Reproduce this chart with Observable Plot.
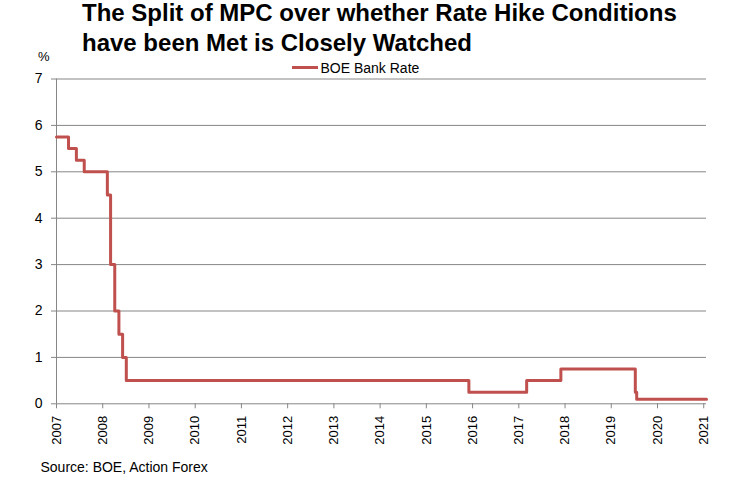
<!DOCTYPE html>
<html>
<head>
<meta charset="utf-8">
<script src="https://cdn.jsdelivr.net/npm/d3@7"></script>
<script src="https://cdn.jsdelivr.net/npm/@observablehq/plot@0.6"></script>
<style>
  html, body { margin: 0; padding: 0; background: #fff; }
  #wrap { position: relative; width: 744px; height: 481px; font-family: Arial, "Liberation Sans", sans-serif; color: #000; }
  #title { position: absolute; left: 82px; top: -1.6px; font-size: 24px; font-weight: bold; line-height: 30px; white-space: nowrap; }
  #chart { position: absolute; left: 0; top: 60px; }
  #pct { position: absolute; left: 38px; top: 49px; font-size: 13px; line-height: 15px; }
  #legsw { position: absolute; left: 292px; top: 66.2px; width: 26px; height: 3px; background: #C0504D; }
  #legtx { position: absolute; left: 320.5px; top: 59.7px; font-size: 14px; line-height: 16px; white-space: nowrap; }
  #source { position: absolute; left: 40.5px; top: 459.4px; font-size: 14px; line-height: 16px; white-space: nowrap; }
</style>
</head>
<body>
<div id="wrap">
  <div id="title">The Split of MPC over whether Rate Hike Conditions<br>have been Met is Closely Watched</div>
  <div id="chart"></div>
  <div id="pct">%</div>
  <div id="legsw"></div>
  <div id="legtx">BOE Bank Rate</div>
  <div id="source">Source: BOE, Action Forex</div>
</div>
<script>
// Step change points (x in chart-year units)
const dates = [2007.0, 2007.26, 2007.43, 2007.60, 2008.10, 2008.17, 2008.26, 2008.35, 2008.43, 2008.51, 2015.92, 2017.17, 2017.91, 2019.52, 2019.55, 2021.06];
const rates = [5.75, 5.5, 5.25, 5.0, 4.5, 3.0, 2.0, 1.5, 1.0, 0.5, 0.25, 0.5, 0.75, 0.25, 0.1, 0.1];
const yearTicks = [2007, 2008, 2009, 2010, 2011, 2012, 2013, 2014, 2015, 2016, 2017, 2018, 2019, 2020, 2021];
const yTicks = [0, 1, 2, 3, 4, 5, 6, 7];
const seriesName = "BOE Bank Rate";

const data = dates.map((d, i) => ({date: d, rate: rates[i], series: seriesName}));

const gray = "#868686";
const chart = Plot.plot({
  width: 744,
  height: 398,
  marginTop: 18.5,
  marginLeft: 56,
  marginRight: 38,
  marginBottom: 54.7,
  style: {fontFamily: "Arial, 'Liberation Sans', sans-serif", fontSize: "13px", color: "#000", background: "#fff"},
  x: {domain: [2007, 2021.06], label: null},
  y: {domain: [0, 7], label: null},
  marks: [
    Plot.gridY(yTicks.filter(t => t > 0), {stroke: gray, strokeOpacity: 1, strokeWidth: 1}),
    Plot.ruleY([0], {stroke: gray, strokeWidth: 1}),
    Plot.ruleX([2007], {stroke: gray, strokeWidth: 1}),
    Plot.axisY({ticks: yTicks, tickFormat: d => String(d), tickSize: 5, tickPadding: 9, stroke: gray, fill: "#000", label: null, fontSize: 14}),
    Plot.axisX({ticks: yearTicks, tickFormat: d => String(d), tickRotate: -90, tickSize: 5, tickPadding: 7, stroke: gray, fill: "#000", label: null, fontSize: 13}),
    Plot.line(data, {x: "date", y: "rate", curve: "step-after", stroke: "#C0504D", strokeWidth: 3})
  ]
});
document.getElementById("chart").appendChild(chart);
</script>
</body>
</html>
